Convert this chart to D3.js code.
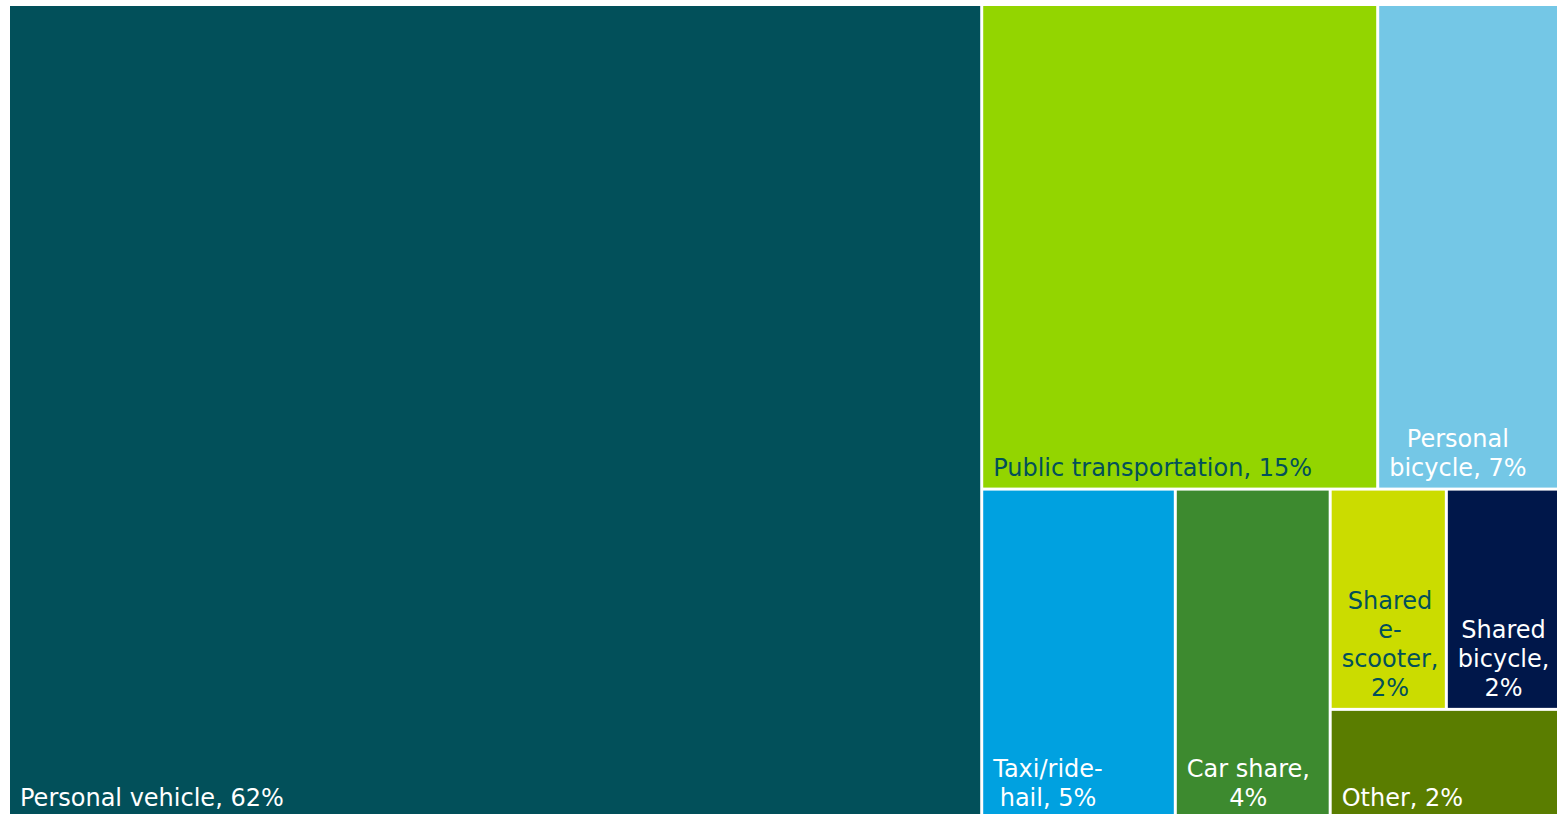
<!DOCTYPE html>
<html>
<head>
<meta charset="utf-8">
<script src="https://cdn.jsdelivr.net/npm/d3@7"></script>
<style>
  html, body { margin: 0; padding: 0; background: #ffffff; overflow: hidden; }
  svg { display: block; }
</style>
</head>
<body>
<svg id="chart" width="1557" height="814"></svg>
<script>
// Share of trips by travel mode (percent)
const modes = [
  "Personal vehicle", "Public transportation", "Personal bicycle", "Taxi/ride-hail",
  "Car share", "Shared e-scooter", "Shared bicycle", "Other"
];
const shares = [62, 15, 7, 5, 4, 2, 2, 2];

// Label text, broken into the lines shown in each tile
const labelLines = [
  ["Personal vehicle, 62%"],
  ["Public transportation, 15%"],
  ["Personal", "bicycle, 7%"],
  ["Taxi/ride-", "hail, 5%"],
  ["Car share,", "4%"],
  ["Shared", "e-", "scooter,", "2%"],
  ["Shared", "bicycle,", "2%"],
  ["Other, 2%"]
];

const fills = ["#02505a", "#93d500", "#74c7e6", "#00a1e0", "#3d8a2f", "#cbdc00", "#00174a", "#5a7d00"];
const textColors = ["#ffffff", "#02505a", "#ffffff", "#ffffff", "#ffffff", "#02505a", "#ffffff", "#ffffff"];

// Tile grouping (indices into the arrays above); alternating slice/dice per level
const nesting = [0, [[1, 2], [3, 4, [[5, 6], 7]]]];

const area = { x0: 10, y0: 6, x1: 1561, y1: 818 };
const fontSize = 24, lineHeight = 29, padX = 10, padBottom = 12;

const svg = d3.select("#chart");

const root = d3.hierarchy(nesting, d => Array.isArray(d) ? d : null)
  .sum(d => Array.isArray(d) ? 0 : shares[d]);

d3.treemap()
  .tile(d3.treemapSliceDice)
  .size([area.x1 - area.x0, area.y1 - area.y0])
  .paddingInner(3)
  .round(false)(root);

const g = svg.append("g").attr("transform", `translate(${area.x0},${area.y0})`);

const leaves = g.selectAll("g.tile")
  .data(root.leaves())
  .join("g")
  .attr("class", "tile");

leaves.append("rect")
  .attr("x", d => d.x0)
  .attr("y", d => d.y0)
  .attr("width", d => d.x1 - d.x0)
  .attr("height", d => d.y1 - d.y0)
  .attr("fill", d => fills[d.data]);

leaves.append("title").text(d => `${modes[d.data]}: ${shares[d.data]}%`);

leaves.each(function(d) {
  const lines = labelLines[d.data];
  const text = d3.select(this).append("text")
    .attr("font-family", "'DejaVu Sans', Verdana, sans-serif")
    .attr("font-size", fontSize)
    .attr("fill", textColors[d.data])
    .attr("text-anchor", "middle");
  const spans = text.selectAll("tspan")
    .data(lines)
    .join("tspan")
    .text(s => s);
  let blockWidth = 0;
  spans.each(function() { blockWidth = Math.max(blockWidth, this.getComputedTextLength()); });
  const cx = d.x0 + padX + blockWidth / 2;
  const lastBaseline = d.y1 - padBottom;
  spans
    .attr("x", cx)
    .attr("y", (s, i) => lastBaseline - (lines.length - 1 - i) * lineHeight);
});
</script>
</body>
</html>
